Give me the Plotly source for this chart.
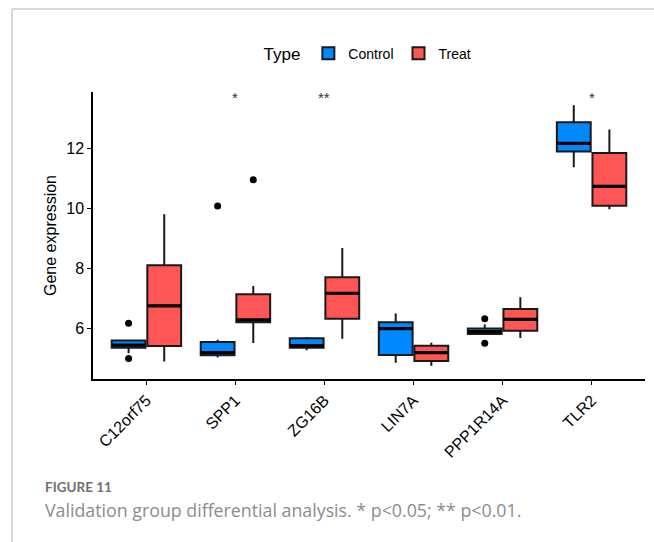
import plotly.graph_objects as go

genes = ["C12orf75", "SPP1", "ZG16B", "LIN7A", "PPP1R14A", "TLR2"]

# Control group box statistics
ctrl_q1 = [5.35, 5.10, 5.35, 5.11, 5.81, 11.90]
ctrl_med = [5.44, 5.19, 5.42, 5.99, 5.89, 12.17]
ctrl_q3 = [5.59, 5.54, 5.67, 6.20, 5.99, 12.87]
ctrl_lo = [5.17, 5.03, 5.27, 4.85, 5.81, 11.37]
ctrl_hi = [5.59, 5.62, 5.71, 6.49, 6.13, 13.44]
ctrl_out_gene = ["C12orf75", "C12orf75", "SPP1", "PPP1R14A", "PPP1R14A"]
ctrl_out_val = [6.17, 4.99, 10.08, 6.32, 5.50]

# Treat group box statistics
treat_q1 = [5.41, 6.20, 6.32, 4.91, 5.92, 10.09]
treat_med = [6.75, 6.28, 7.17, 5.19, 6.30, 10.73]
treat_q3 = [8.10, 7.14, 7.70, 5.42, 6.64, 11.85]
treat_lo = [4.89, 5.51, 5.65, 4.75, 5.68, 9.97]
treat_hi = [9.80, 7.41, 8.68, 5.52, 7.04, 12.63]
treat_out_gene = ["SPP1"]
treat_out_val = [10.95]

sig_genes = ["SPP1", "ZG16B", "TLR2"]
sig_labels = ["*", "**", "*"]
sig_y = 13.70

C_BLUE = "#0088FF"
C_RED = "#FF5555"
EDGE = "#1a1a1a"

fig = go.Figure()

for name, col, og, q1, med, q3, lo, hi in [
    ("Control", C_BLUE, "C", ctrl_q1, ctrl_med, ctrl_q3, ctrl_lo, ctrl_hi),
    ("Treat", C_RED, "T", treat_q1, treat_med, treat_q3, treat_lo, treat_hi),
]:
    fig.add_trace(go.Box(
        name=name, x=genes, q1=q1, median=med, q3=q3,
        lowerfence=lo, upperfence=hi, boxpoints=False,
        fillcolor=col, line=dict(color=EDGE, width=2),
        whiskerwidth=0, offsetgroup=og, hoverinfo="skip",
    ))

# thicker median lines
for og, med in [("C", ctrl_med), ("T", treat_med)]:
    fig.add_trace(go.Scatter(
        x=genes, y=med, mode="markers", offsetgroup=og, showlegend=False,
        marker=dict(symbol="line-ew", size=24, color=EDGE,
                    line=dict(color="#000000", width=3.2)),
        hoverinfo="skip",
    ))

# outliers
for og, gx, gy in [("C", ctrl_out_gene, ctrl_out_val), ("T", treat_out_gene, treat_out_val)]:
    fig.add_trace(go.Scatter(
        x=gx, y=gy, mode="markers", offsetgroup=og, showlegend=False,
        marker=dict(symbol="circle", size=7, color="#000000"),
        hoverinfo="skip",
    ))

for g, lab in zip(sig_genes, sig_labels):
    fig.add_annotation(x=g, y=sig_y, text=lab, showarrow=False,
                       font=dict(size=15, color="#333333",
                                 family="Liberation Sans"),
                       xref="x", yref="y")

fig.add_annotation(xref="paper", yref="paper", x=-0.0906, y=-0.376,
                   xanchor="left", yanchor="middle", text="<b>FIGURE 11</b>",
                   showarrow=False,
                   font=dict(family="Lato", size=13.5, color="#707070"))
fig.add_annotation(xref="paper", yref="paper", x=-0.0906, y=-0.457,
                   xanchor="left", yanchor="middle",
                   text="Validation group differential analysis. * p&lt;0.05; ** p&lt;0.01.",
                   showarrow=False,
                   font=dict(family="Open Sans", size=17.8, color="#8c8c8c"))

# frame lines
fig.add_shape(type="line", xref="paper", yref="paper",
              x0=-0.1467, x1=1.05, y0=1.289, y1=1.289,
              line=dict(color="#cccccc", width=1.5))
fig.add_shape(type="line", xref="paper", yref="paper",
              x0=-0.1467, x1=-0.1467, y0=1.289, y1=-0.6,
              line=dict(color="#cccccc", width=1.5))

fig.update_layout(
    width=654, height=542,
    margin=dict(l=93, r=9, t=92, b=163, autoexpand=False),
    paper_bgcolor="white", plot_bgcolor="white",
    boxmode="group", boxgap=0.2, boxgroupgap=0.05,
    scattermode="group", scattergap=0.2,
    font=dict(family="Liberation Sans", color="#000000"),
    showlegend=True,
    legend=dict(orientation="h", x=0.5, xanchor="center",
                y=1.132, yanchor="middle",
                title=dict(text="Type", side="left",
                           font=dict(size=17, color="#000000")),
                font=dict(size=14, color="#000000"),
                itemwidth=30, tracegroupgap=0),
)
fig.update_xaxes(
    type="category", categoryorder="array", categoryarray=genes,
    range=[-0.6, 5.6], showline=True, linecolor="#000000", linewidth=1.5,
    ticks="outside", ticklen=4, tickwidth=1.2, tickcolor="#000000",
    tickangle=-45, tickfont=dict(size=16, color="#000000"),
    showgrid=False, zeroline=False,
)
fig.update_yaxes(
    range=[4.31, 13.88], tickvals=[6, 8, 10, 12],
    showline=True, linecolor="#000000", linewidth=1.5,
    ticks="outside", ticklen=4, tickwidth=1.2, tickcolor="#000000",
    tickfont=dict(size=16, color="#000000"),
    title=dict(text="Gene expression", font=dict(size=16, color="#000000"),
               standoff=6),
    showgrid=False, zeroline=False,
)

fig.write_html("out.html")
